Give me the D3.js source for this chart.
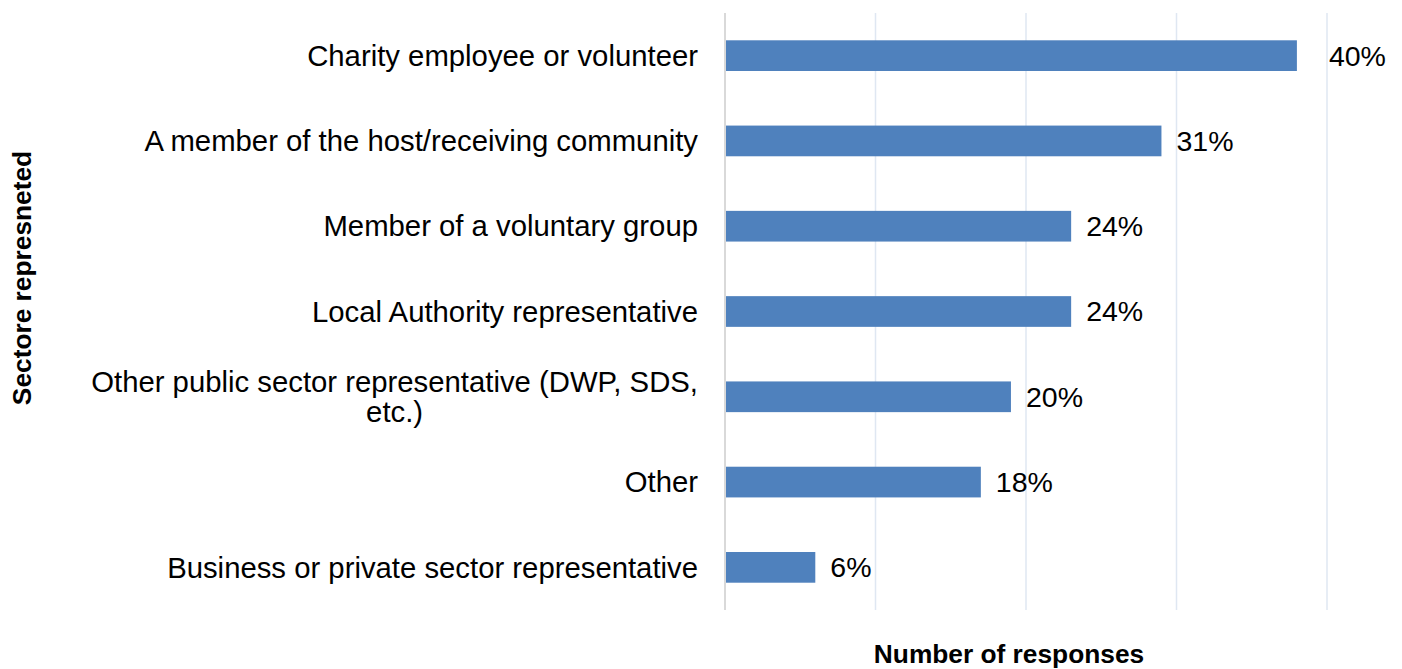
<!DOCTYPE html>
<html>
<head>
<meta charset="utf-8">
<script src="https://cdn.jsdelivr.net/npm/d3@7"></script>
<style>
  html, body { margin: 0; padding: 0; background: #fff; }
  svg { display: block; font-family: "Liberation Sans", Arial, sans-serif; }
</style>
</head>
<body>
<svg id="chart" width="1402" height="669"></svg>
<script>
// Survey respondents by sector (counts); labels show share of all responses
const categories = [
  "Charity employee or volunteer",
  "A member of the host/receiving community",
  "Member of a voluntary group",
  "Local Authority representative",
  "Other public sector representative (DWP, SDS, etc.)",
  "Other",
  "Business or private sector representative"
];
const responses = [38, 29, 23, 23, 19, 17, 6];
const totalResponses = 95;
const xTicks = [0, 10, 20, 30, 40];

// Category labels broken onto lines as drawn
const labelLines = {
  "Other public sector representative (DWP, SDS, etc.)": ["Other public sector representative (DWP, SDS,", "etc.)"]
};

const data = categories.map((c, i) => ({ category: c, count: responses[i] }));

const svg = d3.select("#chart");
const plot = { left: 725, right: 1327, top: 13, bottom: 610 };

const x = d3.scaleLinear().domain([0, 40]).range([plot.left, plot.right]);
const y = d3.scaleBand().domain(categories).range([plot.top, plot.bottom]).paddingInner(0.64).paddingOuter(0.32);

// Vertical gridlines
svg.append("g")
  .selectAll("line")
  .data(xTicks.filter(t => t > 0))
  .join("line")
  .attr("x1", d => x(d)).attr("x2", d => x(d))
  .attr("y1", plot.top).attr("y2", plot.bottom)
  .attr("stroke", "#dfe7f2")
  .attr("stroke-width", 1.5);

// Category axis line
svg.append("line")
  .attr("x1", x(0)).attr("x2", x(0))
  .attr("y1", plot.top).attr("y2", plot.bottom)
  .attr("stroke", "#d9d9d9")
  .attr("stroke-width", 2);

// Bars
svg.append("g")
  .selectAll("rect")
  .data(data)
  .join("rect")
  .attr("x", x(0) + 1)
  .attr("y", d => y(d.category))
  .attr("width", d => x(d.count) - x(0) - 1)
  .attr("height", y.bandwidth())
  .attr("fill", "#4f81bd");

// Value labels (percentage of all responses)
svg.append("g")
  .selectAll("text")
  .data(data)
  .join("text")
  .attr("x", (d, i) => x(d.count) + 15 + (i === 0 ? 17 : 0))
  .attr("y", d => y(d.category) + y.bandwidth() / 2)
  .attr("dy", "0.35em")
  .attr("font-size", 28.5)
  .attr("fill", "#000")
  .text(d => Math.round(d.count / totalResponses * 100) + "%");

// Category labels
const catG = svg.append("g");
data.forEach(d => {
  const lines = labelLines[d.category] || [d.category];
  const cy = y(d.category) + y.bandwidth() / 2;
  const lh = 30;
  const t = catG.append("text")
    .attr("font-size", 29.3)
    .attr("fill", "#000");
  if (lines.length === 1) {
    t.attr("x", 698).attr("y", cy).attr("dy", "0.35em").attr("text-anchor", "end").text(lines[0]);
  } else {
    // multi-line: block is right aligned, lines centred on each other
    const tmp = t.append("tspan").text(lines[0]);
    const w = tmp.node().getComputedTextLength();
    tmp.remove();
    const cx = 698 - w / 2;
    lines.forEach((ln, k) => {
      t.append("tspan")
        .attr("x", cx)
        .attr("y", cy + (k - (lines.length - 1) / 2) * lh)
        .attr("dy", "0.35em")
        .attr("text-anchor", "middle")
        .text(ln);
    });
  }
});

// Axis titles
svg.append("text")
  .attr("x", 1009)
  .attr("y", 663)
  .attr("text-anchor", "middle")
  .attr("font-size", 26.3)
  .attr("font-weight", "bold")
  .attr("fill", "#000")
  .text("Number of responses");

svg.append("text")
  .attr("transform", "translate(31,278) rotate(-90)")
  .attr("text-anchor", "middle")
  .attr("font-size", 26.3)
  .attr("font-weight", "bold")
  .attr("fill", "#000")
  .text("Sectore represneted");
</script>
</body>
</html>
